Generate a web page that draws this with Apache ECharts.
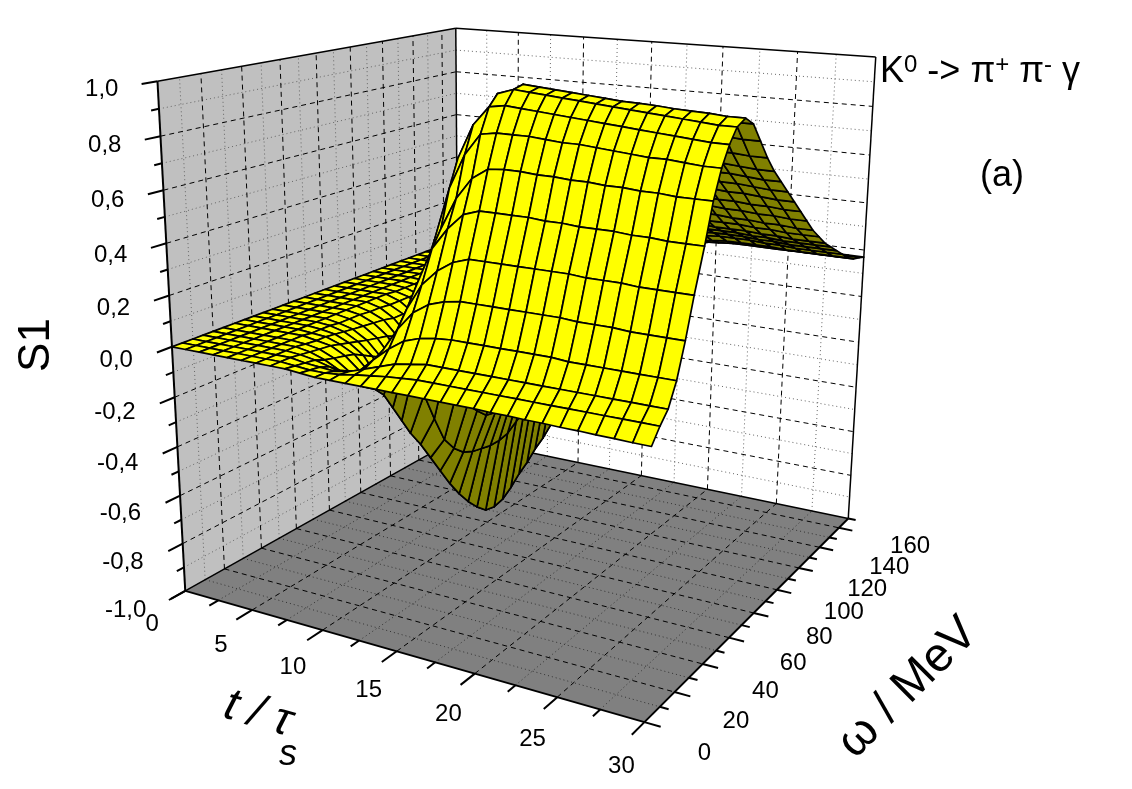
<!DOCTYPE html>
<html>
<head>
<meta charset="utf-8">
<title>S1</title>
<script src="https://cdn.jsdelivr.net/npm/echarts@6/dist/echarts.min.js"></script>
<style>
html, body { margin: 0; padding: 0; background: #fff; }
#chart { width: 1132px; height: 789px; }
</style>
</head>
<body>
<div id="chart"></div>
<script>
var tMax = 30, omegaMax = 170;
var tMajor = [0, 5, 10, 15, 20, 25, 30];
var tMinor = [2.5, 7.5, 12.5, 17.5, 22.5, 27.5];
var omegaMajor = [0, 20, 40, 60, 80, 100, 120, 140, 160];
var omegaMinor = [10, 30, 50, 70, 90, 110, 130, 150, 170];
var zMajor = [-1, -0.8, -0.6, -0.4, -0.2, 0, 0.2, 0.4, 0.6, 0.8, 1];
var zMinor = [-0.9, -0.7, -0.5, -0.3, -0.1, 0.1, 0.3, 0.5, 0.7, 0.9];
var zLabels = ['-1,0', '-0,8', '-0,6', '-0,4', '-0,2', '0,0', '0,2', '0,4', '0,6', '0,8', '1,0'];

// mesh rows in omega, as read from the row spacing along the t = 30 edge
var omegaGrid = [0, 5, 10, 15, 20, 25, 31, 36, 41, 46, 51, 57, 63, 69, 75, 81, 87, 93, 99, 105, 111, 117, 123, 129, 135, 141, 147, 153, 159, 165, 170];

// S1 values: one row per omegaGrid entry, one column per t (0..30)
var s1Rows = [
[0,0,0,0, 0,0,0,0,0,-.005,-.01,-.01,-.01,-.01,-.01,-.01,-.01,-.01,-.01, -.01,-.01,-.012,-.012,-.014,-.014,-.016,-.016,-.018,-.018,-.02,-.02],
[0,0,0,0, 0,0,0,0,-.005,-.01,-.01,-.005,.005,.012,.02,.025,.03,.03,.03, .03,.03,.03,.03,.03,.03,.03,.03,.03,.03,.03,.03],
[0,0,0,0, 0,0,0,0,-.01,-.015,-.02,-.01,.01,.03,.05,.06,.07,.07,.07, .07,.07,.07,.07,.07,.07,.07,.07,.07,.07,.07,.07],
[0,0,0,0, 0,0,0,-.005,-.015,-.03,-.05,-.025,.03,.08,.12,.14,.15,.155,.155, .155,.155,.155,.155,.155,.15,.15,.15,.15,.15,.15,.15],
[0,0,0,0, 0,0,0,-.01,-.03,-.06,-.09,-.04,.05,.14,.21,.25,.27,.28,.28, .28,.28,.28,.28,.28,.275,.275,.275,.27,.27,.27,.27],
[0,0,0,0, 0,0,-.005,-.015,-.04,-.08,-.13,-.05,.07,.2,.3,.36,.40,.42,.42, .42,.42,.42,.42,.42,.415,.415,.415,.41,.41,.41,.41],
[0,0,0,0, 0,0,-.01,-.02,-.05,-.10,-.16,-.04,.12,.28,.42,.5,.56,.58,.58, .58,.58,.575,.575,.57,.57,.57,.565,.565,.56,.56,.56],
[0,0,0,0, 0,-.005,-.01,-.03,-.06,-.12,-.20,-.04,.15,.33,.48,.6,.68,.72,.725, .725,.72,.72,.715,.715,.71,.71,.705,.705,.70,.70,.70],
[0,0,0,0, 0,-.005,-.015,-.04,-.08,-.16,-.27,-.06,.18,.42,.62,.75,.83,.84,.84, .84,.835,.83,.83,.825,.82,.815,.81,.81,.805,.80,.80],
[0,0,0,0, 0,-.005,-.02,-.05,-.10,-.21,-.34,-.10,.2,.47,.72,.85,.92,.93,.925, .92,.915,.91,.905,.90,.895,.89,.885,.88,.875,.87,.87],
[0,0,0,0, 0,-.01,-.025,-.06,-.12,-.26,-.41,-.24,.06,.36,.66,.85,.96,.98,.975, .97,.965,.96,.955,.95,.945,.94,.935,.93,.925,.92,.92],
[0,0,0,0, 0,-.01,-.03,-.07,-.14,-.30,-.48,-.36,-.1,.25,.56,.79,.95,.99,.985, .98,.975,.97,.965,.96,.958,.955,.95,.947,.945,.94,.94],
[0,0,0,0, 0,-.01,-.035,-.08,-.17,-.35,-.56,-.47,-.24,.12,.46,.71,.90,.95,.95, .945,.94,.94,.935,.93,.93,.925,.92,.92,.915,.91,.91],
[0,0,0,0, 0,-.015,-.04,-.10,-.2,-.40,-.64,-.53,-.33,0,.34,.6,.8,.87,.88, .88,.875,.87,.865,.86,.86,.855,.85,.85,.845,.84,.84],
[0,0,0,0, 0,-.015,-.05,-.11,-.23,-.45,-.72,-.57,-.38,-.07,.24,.5,.69,.79,.81, .81,.805,.80,.795,.79,.785,.785,.78,.775,.775,.77,.77],
[0,0,0,0, 0,-.02,-.05,-.13,-.26,-.50,-.79,-.59,-.42,-.15,.13,.39,.59,.71,.75, .75,.745,.74,.735,.73,.73,.725,.72,.72,.715,.71,.71],
[0,0,0,0, 0,-.02,-.06,-.14,-.29,-.55,-.85,-.60,-.43,-.17,.08,.3,.5,.63,.69, .70,.695,.69,.685,.68,.68,.675,.67,.67,.665,.66,.66],
[0,0,0,0, -.005,-.02,-.065,-.15,-.31,-.58,-.90,-.61,-.42,-.17,.06,.25,.42,.55,.63, .65,.645,.64,.635,.63,.63,.625,.62,.62,.615,.61,.61],
[0,0,0,0, -.005,-.025,-.07,-.16,-.33,-.61,-.94,-.61,-.40,-.16,.04,.2,.35,.48,.56, .59,.59,.585,.58,.58,.575,.575,.57,.57,.565,.56,.56],
[0,0,0,0, -.005,-.025,-.07,-.17,-.34,-.63,-.95,-.60,-.38,-.16,.02,.16,.29,.41,.49, .53,.535,.53,.53,.525,.525,.52,.52,.515,.515,.51,.51],
[0,0,0,0, -.005,-.025,-.07,-.17,-.34,-.63,-.94,-.57,-.36,-.16,.01,.13,.24,.35,.43, .47,.485,.48,.48,.475,.475,.47,.47,.465,.465,.46,.46],
[0,0,0,0, -.005,-.025,-.07,-.17,-.34,-.61,-.91,-.54,-.35,-.16,0,.10,.2,.29,.37, .41,.43,.43,.43,.425,.425,.42,.42,.415,.415,.41,.41],
[0,0,0,0, -.005,-.025,-.07,-.16,-.33,-.6,-.87,-.50,-.34,-.16,-.01,.08,.16,.24,.32, .36,.38,.385,.385,.38,.38,.38,.375,.375,.37,.37,.37],
[0,0,0,0, -.005,-.02,-.065,-.16,-.32,-.58,-.84,-.47,-.32,-.15,-.01,.07,.13,.2,.27, .31,.335,.345,.345,.34,.34,.34,.335,.335,.33,.33,.33],
[0,0,0,0, -.005,-.02,-.06,-.15,-.31,-.56,-.80,-.45,-.30,-.14,-.01,.06,.11,.17,.23, .27,.30,.31,.31,.31,.31,.305,.305,.30,.30,.30,.30],
[0,0,0,0, 0,-.02,-.06,-.14,-.30,-.54,-.77,-.43,-.28,-.13,-.01,.05,.10,.15,.2, .24,.265,.275,.28,.28,.28,.275,.275,.27,.27,.27,.27],
[0,0,0,0, 0,-.02,-.055,-.14,-.29,-.52,-.73,-.41,-.26,-.12,-.01,.05,.09,.13,.17, .21,.23,.245,.25,.25,.25,.245,.245,.24,.24,.24,.24],
[0,0,0,0, 0,-.015,-.05,-.13,-.27,-.5,-.70,-.39,-.24,-.11,-.01,.05,.08,.12,.15, .18,.2,.21,.215,.215,.215,.215,.21,.21,.21,.21,.21],
[0,0,0,0, 0,-.015,-.05,-.13,-.26,-.48,-.67,-.37,-.22,-.10,-.01,.04,.08,.11,.14, .16,.18,.185,.19,.19,.19,.19,.19,.19,.19,.19,.19],
[0,0,0,0, 0,-.015,-.045,-.12,-.25,-.45,-.64,-.35,-.21,-.09,-.01,.04,.07,.1,.13, .15,.165,.175,.18,.18,.18,.18,.18,.18,.18,.18,.18],
[0,0,0,0, 0,-.01,-.04,-.11,-.24,-.43,-.60,-.33,-.2,-.08,-.01,.04,.07,.09,.12, .14,.155,.165,.17,.17,.17,.17,.17,.17,.17,.17,.17]
];

// camera calibration: where known corners of the box sit on the page [t, omega, z, px, py]
var calib = [
    [0, 0, -1, 187, 590], [30, 0, -1, 645, 722], [30, 170, -1, 848, 518], [0, 170, -1, 457, 441],
    [0, 0, 1, 155, 81], [30, 170, 1, 875, 56], [0, 170, 1, 457, 30], [0, 170, 1, 457, 30],
    [0, 0, 0, 172, 348], [30, 170, 0, 862, 298], [0, 170, 0, 457, 233]
];

function solve(A, b) {
    var n = b.length, i, j, k;
    for (i = 0; i < n; i++) {
        var p = i;
        for (k = i + 1; k < n; k++) if (Math.abs(A[k][i]) > Math.abs(A[p][i])) p = k;
        var t = A[i]; A[i] = A[p]; A[p] = t;
        t = b[i]; b[i] = b[p]; b[p] = t;
        for (k = i + 1; k < n; k++) {
            var f = A[k][i] / A[i][i];
            for (j = i; j < n; j++) A[k][j] -= f * A[i][j];
            b[k] -= f * b[i];
        }
    }
    var x = [];
    for (i = n - 1; i >= 0; i--) {
        var s = b[i];
        for (j = i + 1; j < n; j++) s -= A[i][j] * x[j];
        x[i] = s / A[i][i];
    }
    return x;
}

function fitCamera() {
    var rows = [], rhs = [];
    calib.forEach(function (c) {
        var u = c[0] / tMax, v = c[1] / omegaMax, w = (c[2] + 1) / 2;
        rows.push([u, v, w, 1, 0, 0, 0, 0, -c[3] * u, -c[3] * v, -c[3] * w]); rhs.push(c[3]);
        rows.push([0, 0, 0, 0, u, v, w, 1, -c[4] * u, -c[4] * v, -c[4] * w]); rhs.push(c[4]);
    });
    var N = [], y = [];
    for (var i = 0; i < 11; i++) {
        N[i] = [];
        y[i] = 0;
        for (var j = 0; j < 11; j++) {
            var s = 0;
            rows.forEach(function (r) { s += r[i] * r[j]; });
            N[i][j] = s;
        }
        rows.forEach(function (r, k) { y[i] += r[i] * rhs[k]; });
    }
    return solve(N, y);
}

var cam = fitCamera();

function project(t, omega, z) {
    var u = t / tMax, v = omega / omegaMax, w = (z + 1) / 2;
    var d = cam[8] * u + cam[9] * v + cam[10] * w + 1;
    return [(cam[0] * u + cam[1] * v + cam[2] * w + cam[3]) / d, (cam[4] * u + cam[5] * v + cam[6] * w + cam[7]) / d];
}

var blackLine = { stroke: '#000', lineWidth: 2, fill: null };

function seg(api, a, b, style) {
    var p = api.coord(project(a[0], a[1], a[2]));
    var q = api.coord(project(b[0], b[1], b[2]));
    return { type: 'line', shape: { x1: p[0], y1: p[1], x2: q[0], y2: q[1] }, style: style };
}

function quad(api, pts, fill) {
    return {
        type: 'polygon',
        shape: { points: pts.map(function (c) { return api.coord(project(c[0], c[1], c[2])); }) },
        style: { fill: fill, stroke: null }
    };
}

// walls, floor and their grids
function renderBox(params, api) {
    var kids = [];
    kids.push(quad(api, [[0, 0, -1], [0, omegaMax, -1], [0, omegaMax, 1], [0, 0, 1]], '#c0c0c0'));
    kids.push(quad(api, [[0, 0, -1], [tMax, 0, -1], [tMax, omegaMax, -1], [0, omegaMax, -1]], '#808080'));

    var dash = { stroke: '#000', lineWidth: 1, lineDash: [5, 4], fill: null };
    var dot = { stroke: '#666', lineWidth: 1, lineDash: [1, 3], fill: null };
    var dotFloor = { stroke: '#333', lineWidth: 1, lineDash: [1, 3], fill: null };

    function grid(list, style, floorStyle, kind) {
        list.forEach(function (val) {
            if (kind == 't') {
                if (val == 0 || val == tMax) return;
                kids.push(seg(api, [val, omegaMax, -1], [val, omegaMax, 1], style));
                kids.push(seg(api, [val, 0, -1], [val, omegaMax, -1], floorStyle));
            } else if (kind == 'w') {
                if (val == 0 || val == omegaMax) return;
                kids.push(seg(api, [0, val, -1], [0, val, 1], style));
                kids.push(seg(api, [0, val, -1], [tMax, val, -1], floorStyle));
            } else {
                if (val == -1 || val == 1) return;
                kids.push(seg(api, [0, 0, val], [0, omegaMax, val], style));
                kids.push(seg(api, [0, omegaMax, val], [tMax, omegaMax, val], style));
            }
        });
    }
    grid(tMinor, dot, dotFloor, 't');
    grid(omegaMinor, dot, dotFloor, 'w');
    grid(zMinor, dot, dot, 'z');
    grid(tMajor, dash, dash, 't');
    grid(omegaMajor, dash, dash, 'w');
    grid(zMajor, dash, dash, 'z');

    var thin = { stroke: '#000', lineWidth: 1.5, fill: null };
    kids.push(seg(api, [0, omegaMax, -1], [0, omegaMax, 1], thin));
    kids.push(seg(api, [0, 0, 1], [0, omegaMax, 1], thin));
    kids.push(seg(api, [0, omegaMax, 1], [tMax, omegaMax, 1], thin));
    kids.push(seg(api, [tMax, omegaMax, -1], [tMax, omegaMax, 1], thin));
    kids.push(seg(api, [0, 0, -1], [0, omegaMax, -1], thin));
    kids.push(seg(api, [0, omegaMax, -1], [tMax, omegaMax, -1], thin));
    return { type: 'group', children: kids };
}

// front axes, ticks and tick labels
function renderAxes(params, api) {
    var kids = [];
    kids.push(seg(api, [0, 0, -1], [0, 0, 1], blackLine));
    kids.push(seg(api, [0, 0, -1], [tMax, 0, -1], blackLine));
    kids.push(seg(api, [tMax, 0, -1], [tMax, omegaMax, -1], blackLine));

    zMajor.forEach(function (z) { kids.push(seg(api, [0, 0, z], [0, -7, z], blackLine)); });
    zMinor.forEach(function (z) { kids.push(seg(api, [0, 0, z], [0, -3.5, z], blackLine)); });
    tMajor.forEach(function (t) { kids.push(seg(api, [t, 0, -1], [t, -8, -1], blackLine)); });
    tMinor.forEach(function (t) { kids.push(seg(api, [t, 0, -1], [t, -4.5, -1], blackLine)); });
    omegaMajor.forEach(function (w) { kids.push(seg(api, [tMax, w, -1], [tMax + 0.9, w, -1], blackLine)); });
    omegaMinor.forEach(function (w) { kids.push(seg(api, [tMax, w, -1], [tMax + 0.5, w, -1], blackLine)); });

    function label(text, pos, dx, dy, align) {
        var p = api.coord(pos);
        kids.push({
            type: 'text',
            style: {
                text: text, x: p[0] + dx, y: p[1] + dy, align: align, verticalAlign: 'middle',
                fill: '#000', font: '24px "Liberation Sans"'
            }
        });
    }
    zMajor.forEach(function (z, i) { label(zLabels[i], project(0, 0, z), -39, 14 - 6 * z, 'right'); });
    tMajor.forEach(function (t) { label(String(t), project(t, 0, -1), -33 + t / 3, 34 + t / 3, 'center'); });
    omegaMajor.forEach(function (w) { label(String(w), project(tMax, w, -1), 60 + w * 0.07, 31 - w * 0.08, 'center'); });
    return { type: 'group', children: kids };
}

// one mesh cell per data item, drawn far corner first
var cells = [];
for (var ti = 0; ti < tMax; ti++) {
    for (var wi = omegaGrid.length - 2; wi >= 0; wi--) cells.push([ti, wi]);
}

function renderCell(params, api) {
    var i = api.value(0), j = api.value(1);
    var pts = [[i, j], [i + 1, j], [i + 1, j + 1], [i, j + 1]].map(function (c) {
        return api.coord(project(c[0], omegaGrid[c[1]], s1Rows[c[1]][c[0]]));
    });
    var area = 0;
    for (var k = 0; k < 4; k++) {
        var a = pts[k], b = pts[(k + 1) % 4];
        area += a[0] * b[1] - b[0] * a[1];
    }
    return {
        type: 'polygon',
        shape: { points: pts },
        style: { fill: area < 0 ? '#ffff00' : '#808000', stroke: '#000', lineWidth: 1.7, lineJoin: 'round' }
    };
}

function bigText(text, x, y, size, rotation, italic) {
    return {
        type: 'text', x: x, y: y, rotation: rotation || 0,
        style: {
            text: text, align: 'center', verticalAlign: 'middle', fill: '#000',
            font: (italic ? 'italic ' : '') + size + 'px "Liberation Sans"'
        }
    };
}

var myChart = echarts.init(document.getElementById('chart'), null, { renderer: 'canvas' });
myChart.setOption({
    animation: false,
    backgroundColor: '#fff',
    grid: { left: 0, right: 0, top: 0, bottom: 0 },
    xAxis: { type: 'value', min: 0, max: 1132, show: false },
    yAxis: { type: 'value', min: 0, max: 789, inverse: true, show: false },
    series: [
        { type: 'custom', coordinateSystem: 'cartesian2d', data: [[0, 0]], renderItem: renderBox, clip: false, silent: true, z: 1 },
        { type: 'custom', coordinateSystem: 'cartesian2d', data: [[0, 0]], renderItem: renderAxes, clip: false, silent: true, z: 2 },
        { type: 'custom', coordinateSystem: 'cartesian2d', data: cells, renderItem: renderCell, clip: false, silent: true, z: 3, progressive: 0 }
    ],
    graphic: [
        bigText('S1', 37, 345, 44, Math.PI / 2),
        bigText('t / τ', 258, 714, 46, -0.28, true),
        bigText('s', 288, 755, 36, 0, true),
        bigText('ω / MeV', 908, 688, 48, Math.PI / 4),
        bigText('(a)', 1002, 176, 36),
        {
            type: 'text', x: 880, y: 72,
            style: {
                text: '{b|K}{s|0}{b| -> π}{s|+}{b| π}{s|-}{b| γ}',
                verticalAlign: 'middle', fill: '#000',
                rich: {
                    b: { font: '36px "Liberation Sans"' },
                    s: { font: '24px "Liberation Sans"', padding: [0, 0, 14, 0] }
                }
            }
        }
    ]
});
</script>
</body>
</html>
